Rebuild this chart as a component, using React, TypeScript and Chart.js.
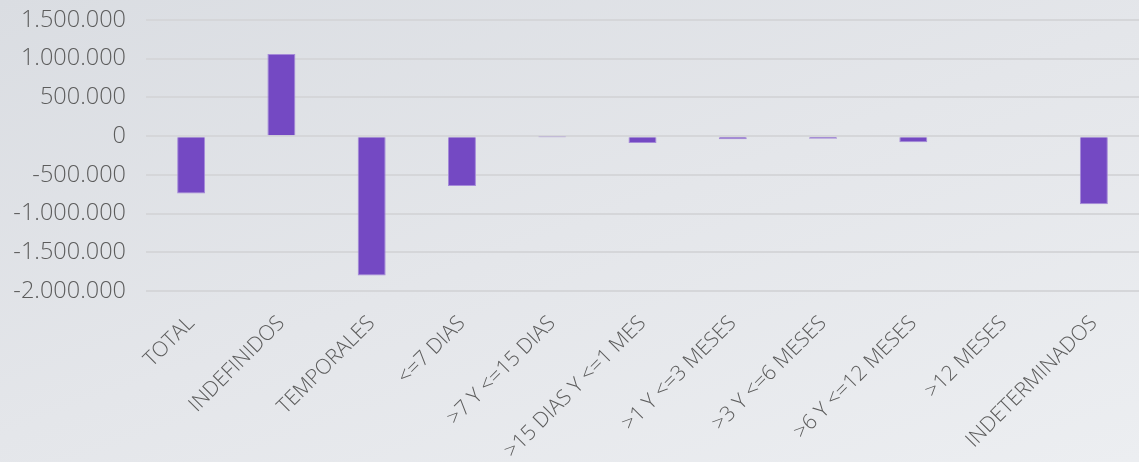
import React, { useEffect, useRef } from "react";
import { Chart, registerables } from "chart.js";

Chart.register(...registerables);

const categories = [
  "TOTAL",
  "INDEFINIDOS",
  "TEMPORALES",
  "<=7 DIAS",
  ">7 Y <=15 DIAS",
  ">15 DIAS Y <=1 MES",
  ">1 Y <=3 MESES",
  ">3 Y <=6 MESES",
  ">6 Y <=12 MESES",
  ">12 MESES",
  "INDETERMINADOS",
];

const values = [-740000, 1060000, -1800000, -645000, -5000, -90000, -40000, -35000, -80000, 0, -880000];

const yMin = -2000000;
const yMax = 1500000;
const yStep = 500000;

const fmt = (v: number) => {
  const s = Math.abs(v).toString().replace(/\B(?=(\d{3})+(?!\d))/g, ".");
  return (v < 0 ? "-" : "") + s;
};

export default function App() {
  const ref = useRef<HTMLCanvasElement | null>(null);
  useEffect(() => {
    document.body.style.margin = "0";
    if (!ref.current) return;
    const chart = new Chart(ref.current, {
      type: "bar",
      data: {
        labels: categories,
        datasets: [
          {
            data: values,
            backgroundColor: "#7449c3",
            borderColor: "#a58ad8",
            borderWidth: 1,
            barPercentage: 0.62,
            categoryPercentage: 0.5,
          },
        ],
      },
      options: {
        animation: false,
        responsive: false,
        maintainAspectRatio: false,
        layout: { padding: 0 },
        plugins: { legend: { display: false }, tooltip: { enabled: false } },
        scales: {
          x: {
            grid: { display: false },
            border: { display: false },
            ticks: {
              color: "#5c5c5c",
              font: { family: "Open Sans", size: 21, weight: "300" },
              maxRotation: 45,
              minRotation: 45,
              autoSkip: false,
              padding: 12,
            },
            afterFit: (s: any) => {
              s.height = 171;
              s.paddingLeft = 0;
              s.paddingRight = 0;
            },
          },
          y: {
            min: yMin,
            max: yMax,
            grid: { color: "#d5d6d9", lineWidth: 2, drawTicks: false },
            border: { display: false },
            ticks: {
              stepSize: yStep,
              color: "#5c5c5c",
              font: { family: "Open Sans", size: 23.5, weight: "300" },
              padding: 20,
              callback: (v: any) => fmt(Number(v)),
            },
            afterFit: (s: any) => {
              s.width = 146;
              s.paddingTop = 20;
              s.paddingBottom = 0;
            },
          },
        },
      },
    });
    return () => chart.destroy();
  }, []);
  return (
    <div
      style={{
        width: 1139,
        height: 462,
        overflow: "hidden",
        background: "linear-gradient(160deg, #dadde2 0%, #e4e6ea 50%, #eceef1 100%)",
      }}
    >
      <canvas ref={ref} width={1139} height={462} style={{ display: "block" }} />
    </div>
  );
}
